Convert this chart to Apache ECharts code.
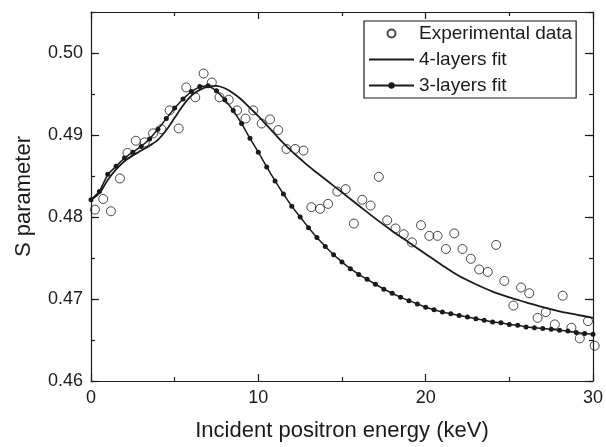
<!DOCTYPE html>
<html>
<head>
<meta charset="utf-8">
<script src="https://cdn.jsdelivr.net/npm/echarts@6/dist/echarts.min.js"></script>
<style>
html,body{margin:0;padding:0;background:#fff;}
#chart{width:606px;height:447px;}
</style>
</head>
<body>
<div id="chart"></div>
<script>
// ---- data ----
var expX = [0.24,0.73,1.19,1.73,2.18,2.68,3.21,3.71,4.21,4.70,5.24,5.69,6.23,6.73,7.22,7.68,8.23,8.73,9.23,9.70,10.20,10.70,11.19,11.68,12.20,12.70,13.17,13.69,14.17,14.72,15.22,15.71,16.21,16.71,17.20,17.70,18.20,18.69,19.18,19.72,20.22,20.71,21.21,21.71,22.20,22.70,23.20,23.71,24.21,24.70,25.24,25.70,26.19,26.69,27.18,27.72,28.19,28.71,29.21,29.70,30.10];
var expY = [0.4809,0.4822,0.4807,0.4847,0.4878,0.4893,0.4891,0.4902,0.4907,0.4930,0.4908,0.4958,0.4946,0.4975,0.4964,0.4946,0.4943,0.4930,0.4920,0.4930,0.4914,0.4919,0.4906,0.4883,0.4883,0.4881,0.4812,0.4810,0.4816,0.4831,0.4834,0.4792,0.4821,0.4814,0.4849,0.4796,0.4786,0.4779,0.4769,0.4790,0.4777,0.4777,0.4761,0.4780,0.4761,0.4749,0.4736,0.4733,0.4766,0.4722,0.4692,0.4714,0.4707,0.4677,0.4684,0.4669,0.4704,0.4665,0.4652,0.4673,0.4643];

var fit4X = [0,0.5,1,1.5,2,2.5,3,3.5,4,4.5,5,5.5,6,6.5,7,7.5,8,8.5,9,9.5,10,10.5,11,11.5,12,12.5,13,13.5,14,15,16,17,18,19,20,21,22,23,24,25,26,27,28,29,30];
var fit4Y = [0.4821,0.4829,0.4845,0.4858,0.4868,0.4875,0.4881,0.4887,0.4894,0.4906,0.4921,0.4936,0.4948,0.4955,0.4959,0.4960,0.4957,0.4951,0.4943,0.4933,0.4923,0.4912,0.4901,0.4890,0.4880,0.4871,0.4862,0.4854,0.4846,0.4830,0.4814,0.4798,0.4783,0.4769,0.4755,0.4741,0.4728,0.4718,0.4709,0.4702,0.4696,0.4690,0.4685,0.4681,0.4677];

var fit3X = [0,0.5,1,1.5,2,2.5,3,3.5,4,4.5,5,5.5,6,6.5,7,7.5,8,8.5,9,9.5,10,10.5,11,11.5,12,12.5,13,13.5,14,14.5,15,15.5,16,16.5,17,17.5,18,18.5,19,19.5,20,20.5,21,21.5,22,22.5,23,23.5,24,24.5,25,25.5,26,26.5,27,27.5,28,28.5,29,29.5,30];
var fit3Y = [0.4821,0.4831,0.4852,0.4862,0.4872,0.4879,0.4886,0.4895,0.4907,0.4920,0.4933,0.4944,0.4953,0.4959,0.4960,0.4954,0.4943,0.4930,0.4914,0.4896,0.4879,0.4861,0.4844,0.4828,0.4813,0.4800,0.4787,0.4775,0.4764,0.4754,0.4745,0.4737,0.4730,0.4724,0.4718,0.4712,0.4707,0.4702,0.4698,0.4694,0.4690,0.4687,0.4684,0.4682,0.4680,0.4678,0.4676,0.4674,0.4672,0.4671,0.4669,0.4668,0.4666,0.4665,0.4664,0.4663,0.4662,0.4661,0.4659,0.4658,0.4657];

var seriesNames = ['Experimental data','4-layers fit','3-layers fit'];
var xTitle = 'Incident positron energy (keV)';
var yTitle = 'S parameter';

function pairs(xs, ys){ return xs.map(function(x,i){ return [x, ys[i]]; }); }

var FONT = "'Liberation Sans', Arial, sans-serif";
var INK = '#1a1a1a';

var chart = echarts.init(document.getElementById('chart'), null, {renderer:'canvas'});

function xAx(pos, labels){
  return {
    type:'value', position:pos, min:0, max:30, interval:10,
    name: labels ? xTitle : '', nameLocation:'middle', nameGap:39,
    nameTextStyle:{fontFamily:FONT, fontSize:22, color:INK},
    axisLine:{show:true, onZero:false, lineStyle:{color:INK, width:1.2}},
    axisTick:{show:true, inside:true, length:7, lineStyle:{color:INK, width:1.2}},
    minorTick:{show:true, splitNumber:2, length:4, lineStyle:{color:INK, width:1.2}},
    axisLabel:{show:labels, margin:8, fontFamily:FONT, fontSize:18, color:INK},
    splitLine:{show:false}, minorSplitLine:{show:false}
  };
}
function yAx(pos, labels, interval, tickLen, showLine){
  return {
    type:'value', position:pos, min:0.46, max:0.505, interval:interval,
    name: labels ? yTitle : '', nameLocation:'middle', nameGap:56,
    nameTextStyle:{fontFamily:FONT, fontSize:22, color:INK},
    axisLine:{show:showLine, onZero:false, lineStyle:{color:INK, width:1.2}},
    axisTick:{show:true, inside:true, length:tickLen, lineStyle:{color:INK, width:1.2}},
    axisLabel:{show:labels, margin:8, fontFamily:FONT, fontSize:18, color:INK,
      showMaxLabel:false,
      formatter:function(v){ return v.toFixed(2); }},
    splitLine:{show:false}
  };
}

var option = {
  backgroundColor:'#fff',
  animation:false,
  grid:{left:91, right:11, top:12, bottom:63, containLabel:false},
  legend:{
    left:364, top:21, orient:'vertical',
    padding:[3,4,3,4], itemGap:7, itemWidth:45, itemHeight:8,
    borderColor:INK, borderWidth:1.2, backgroundColor:'#fff',
    textStyle:{fontFamily:FONT, fontSize:19, color:INK},
    data:[
      {name:seriesNames[0]},
      {name:seriesNames[1], itemStyle:{color:'rgba(0,0,0,0)', opacity:0}},
      {name:seriesNames[2]}
    ]
  },
  xAxis:[ xAx('bottom', true), xAx('top', false) ],
  yAxis:[
    yAx('left', true, 0.01, 8, true),
    yAx('left', false, 0.005, 4, false),
    yAx('right', false, 0.01, 8, true),
    yAx('right', false, 0.005, 4, false)
  ],
  series:[
    {
      name:seriesNames[0], type:'scatter', xAxisIndex:0, yAxisIndex:0,
      symbol:'circle', symbolSize:9, clip:false,
      itemStyle:{color:'rgba(255,255,255,0)', borderColor:INK, borderWidth:1},
      data:pairs(expX, expY), z:3
    },
    {
      name:seriesNames[1], type:'line', xAxisIndex:0, yAxisIndex:0,
      smooth:0.3, showSymbol:false, symbol:'none',
      lineStyle:{color:INK, width:1.8}, itemStyle:{color:INK},
      data:pairs(fit4X, fit4Y), z:2
    },
    {
      name:seriesNames[2], type:'line', xAxisIndex:0, yAxisIndex:0,
      symbol:'circle', symbolSize:5, showSymbol:true,
      lineStyle:{color:INK, width:1.5}, itemStyle:{color:INK},
      data:pairs(fit3X, fit3Y), z:2
    }
  ]
};
chart.setOption(option);
</script>
</body>
</html>
